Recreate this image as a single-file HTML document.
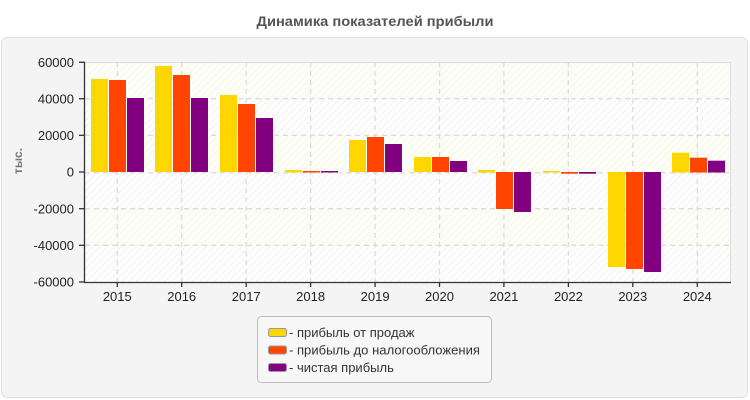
<!DOCTYPE html>
<html><head><meta charset="utf-8"><style>
html,body{margin:0;padding:0;background:#fff;}
svg{display:block;}
</style></head><body>
<svg width="750" height="400" viewBox="0 0 750 400" xmlns="http://www.w3.org/2000/svg" font-family="Liberation Sans, Arial, sans-serif">
<defs>
<pattern id="hatch" patternUnits="userSpaceOnUse" width="5" height="5" patternTransform="rotate(45)">
<rect width="5" height="5" fill="#ffffff"/>
<line x1="0" y1="0" x2="0" y2="5" stroke="#ececec" stroke-width="1.6"/>
</pattern>
<pattern id="hatchY" patternUnits="userSpaceOnUse" width="5" height="5" patternTransform="rotate(45)">
<rect width="5" height="5" fill="#fcfdf5"/>
<line x1="0" y1="0" x2="0" y2="5" stroke="#f3f4ee" stroke-width="1.4"/>
</pattern>
</defs>
<rect x="0" y="0" width="750" height="400" fill="#fff"/>
<text x="375" y="26" text-anchor="middle" font-size="14" font-weight="bold" fill="#555" textLength="237" lengthAdjust="spacingAndGlyphs">Динамика показателей прибыли</text>
<rect x="1.5" y="37.5" width="746" height="360" rx="6" ry="6" fill="#f4f4f4" stroke="#dddddd" stroke-width="1"/>

<!-- plot bands -->
<rect x="85" y="62" width="645" height="36.7" fill="url(#hatchY)"/>
<rect x="85" y="98.7" width="645" height="36.6" fill="url(#hatch)"/>
<rect x="85" y="135.3" width="645" height="36.7" fill="url(#hatchY)"/>
<rect x="85" y="172" width="645" height="36.7" fill="url(#hatch)"/>
<rect x="85" y="208.7" width="645" height="36.6" fill="url(#hatchY)"/>
<rect x="85" y="245.3" width="645" height="36.7" fill="url(#hatch)"/>
<line x1="85" y1="62.5" x2="730" y2="62.5" stroke="#dddddd" stroke-width="1"/>
<line x1="730.5" y1="62" x2="730.5" y2="282" stroke="#dddddd" stroke-width="1"/>

<!-- grid -->
<g stroke="#dcdcdc" stroke-width="1.3" stroke-dasharray="5,4" fill="none">
<line x1="85" y1="98.7" x2="730" y2="98.7"/>
<line x1="85" y1="135.3" x2="730" y2="135.3"/>
<line x1="85" y1="172.8" x2="730" y2="172.8"/>
<line x1="85" y1="208.7" x2="730" y2="208.7"/>
<line x1="85" y1="245.3" x2="730" y2="245.3"/>
<line x1="117.3" y1="62" x2="117.3" y2="282"/>
<line x1="181.7" y1="62" x2="181.7" y2="282"/>
<line x1="246.2" y1="62" x2="246.2" y2="282"/>
<line x1="310.6" y1="62" x2="310.6" y2="282"/>
<line x1="375.1" y1="62" x2="375.1" y2="282"/>
<line x1="439.5" y1="62" x2="439.5" y2="282"/>
<line x1="503.9" y1="62" x2="503.9" y2="282"/>
<line x1="568.4" y1="62" x2="568.4" y2="282"/>
<line x1="632.8" y1="62" x2="632.8" y2="282"/>
<line x1="697.3" y1="62" x2="697.3" y2="282"/>
</g>

<!-- bars -->
<g>
<rect x="91" y="79" width="17" height="93" fill="#ffd700"/>
<rect x="109" y="80" width="17" height="92" fill="#ff4500"/>
<rect x="127" y="98" width="17" height="74" fill="#800080"/>

<rect x="155" y="66" width="17" height="106" fill="#ffd700"/>
<rect x="173" y="75" width="17" height="97" fill="#ff4500"/>
<rect x="191" y="98" width="17" height="74" fill="#800080"/>

<rect x="220" y="95" width="17" height="77" fill="#ffd700"/>
<rect x="238" y="104" width="17" height="68" fill="#ff4500"/>
<rect x="256" y="118" width="17" height="54" fill="#800080"/>

<rect x="285" y="170" width="17" height="2.5" fill="#ffd700"/>
<rect x="303" y="171" width="17" height="1.5" fill="#ff4500"/>
<rect x="321" y="171" width="17" height="1.5" fill="#800080"/>

<rect x="349" y="140" width="17" height="32" fill="#ffd700"/>
<rect x="367" y="137" width="17" height="35" fill="#ff4500"/>
<rect x="385" y="144" width="17" height="28" fill="#800080"/>

<rect x="414" y="157" width="17" height="15" fill="#ffd700"/>
<rect x="432" y="157" width="17" height="15" fill="#ff4500"/>
<rect x="450" y="161" width="17" height="11" fill="#800080"/>

<rect x="478" y="170" width="17" height="2.5" fill="#ffd700"/>
<rect x="496" y="172" width="17" height="37" fill="#ff4500"/>
<rect x="514" y="172" width="17" height="40" fill="#800080"/>

<rect x="543" y="171" width="17" height="1.5" fill="#ffd700"/>
<rect x="561" y="172" width="17" height="1.7" fill="#ff4500"/>
<rect x="579" y="172" width="17" height="1.7" fill="#800080"/>

<rect x="608" y="172" width="17" height="95" fill="#ffd700"/>
<rect x="626" y="172" width="17" height="97" fill="#ff4500"/>
<rect x="644" y="172" width="17" height="100" fill="#800080"/>

<rect x="672" y="152.7" width="17" height="19.8" fill="#ffd700"/>
<rect x="690" y="157.7" width="17" height="14.8" fill="#ff4500"/>
<rect x="708" y="160.7" width="17" height="11.8" fill="#800080"/>
</g>

<!-- axes -->
<g stroke="#333" stroke-width="1.3" fill="none">
<line x1="84.5" y1="62" x2="84.5" y2="282.5"/>
<line x1="84" y1="282.5" x2="731" y2="282.5"/>
<line x1="79" y1="62.3" x2="85" y2="62.3"/>
<line x1="79" y1="98.7" x2="85" y2="98.7"/>
<line x1="79" y1="135.3" x2="85" y2="135.3"/>
<line x1="79" y1="172" x2="85" y2="172"/>
<line x1="79" y1="208.7" x2="85" y2="208.7"/>
<line x1="79" y1="245.3" x2="85" y2="245.3"/>
<line x1="79" y1="282" x2="85" y2="282"/>
<line x1="117.3" y1="282" x2="117.3" y2="287"/>
<line x1="181.7" y1="282" x2="181.7" y2="287"/>
<line x1="246.2" y1="282" x2="246.2" y2="287"/>
<line x1="310.6" y1="282" x2="310.6" y2="287"/>
<line x1="375.1" y1="282" x2="375.1" y2="287"/>
<line x1="439.5" y1="282" x2="439.5" y2="287"/>
<line x1="503.9" y1="282" x2="503.9" y2="287"/>
<line x1="568.4" y1="282" x2="568.4" y2="287"/>
<line x1="632.8" y1="282" x2="632.8" y2="287"/>
<line x1="697.3" y1="282" x2="697.3" y2="287"/>
</g>

<!-- y labels -->
<g font-size="13" fill="#222" text-anchor="end">
<text x="74" y="67">60000</text>
<text x="74" y="103.5">40000</text>
<text x="74" y="140">20000</text>
<text x="74" y="176.5">0</text>
<text x="74" y="213.5">-20000</text>
<text x="74" y="250">-40000</text>
<text x="74" y="286.5">-60000</text>
</g>
<text transform="translate(22,161) rotate(-90)" text-anchor="middle" font-size="12" font-weight="bold" fill="#777">тыс.</text>

<!-- x labels -->
<g font-size="13" fill="#222" text-anchor="middle">
<text x="117.3" y="301">2015</text>
<text x="181.7" y="301">2016</text>
<text x="246.2" y="301">2017</text>
<text x="310.6" y="301">2018</text>
<text x="375.1" y="301">2019</text>
<text x="439.5" y="301">2020</text>
<text x="503.9" y="301">2021</text>
<text x="568.4" y="301">2022</text>
<text x="632.8" y="301">2023</text>
<text x="697.3" y="301">2024</text>
</g>

<!-- legend -->
<rect x="257.5" y="316.5" width="234" height="66" rx="4" ry="4" fill="#f7f7f7" stroke="#bbbbbb" stroke-width="1"/>
<rect x="268.5" y="328.5" width="18" height="8" rx="2" fill="#ffd700" stroke="#999" stroke-width="1"/>
<rect x="268.5" y="346" width="18" height="8" rx="2" fill="#ff4500" stroke="#999" stroke-width="1"/>
<rect x="268.5" y="363.5" width="18" height="8" rx="2" fill="#800080" stroke="#999" stroke-width="1"/>
<g font-size="13" fill="#333">
<text x="289" y="337">- прибыль от продаж</text>
<text x="289" y="354.5" textLength="191" lengthAdjust="spacingAndGlyphs">- прибыль до налогообложения</text>
<text x="289" y="372">- чистая прибыль</text>
</g>
</svg>
</body></html>
